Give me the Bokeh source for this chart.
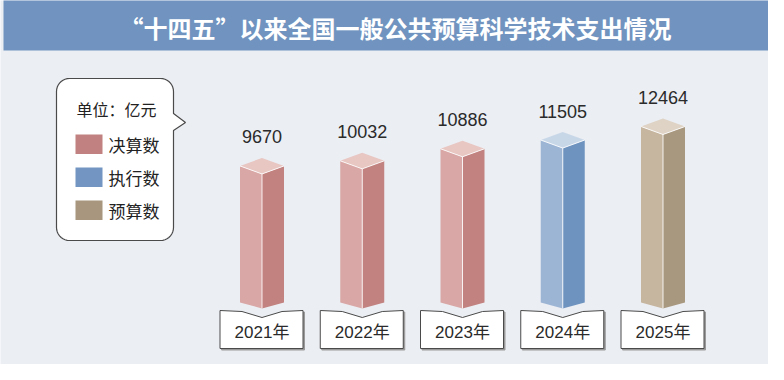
import numpy as np
from bokeh.plotting import figure
from bokeh.models import Range1d
from bokeh.core.properties import value
from bokeh.embed import file_html
from bokeh.resources import INLINE

# ---------------- data ----------------
years = ["2021年", "2022年", "2023年", "2024年", "2025年"]
values = [9670, 10032, 10886, 11505, 12464]
kinds = ["决算数", "决算数", "决算数", "执行数", "预算数"]
legend_items = ["决算数", "执行数", "预算数"]
title_text = "“十四五”以来全国一般公共预算科学技术支出情况"
unit_text = "单位：亿元"

# ---------------- styles ----------------
face_colors = {
    "决算数": ("#d9a7a5", "#c2827f", "#e8c6c2"),
    "执行数": ("#9db5d5", "#6f93bf", "#c8d7e8"),
    "预算数": ("#c6b59f", "#a99880", "#ded3c5"),
}
swatch_colors = {"决算数": "#c08180", "执行数": "#7296c1", "预算数": "#a8967f"}
CJK = "Noto Sans CJK SC"
NUMF = "'Liberation Sans', 'Noto Sans CJK SC'"

W, H, OFF = 768, 364, 0
X0, DX = 261.5, 100.25        # first category centre (px), category spacing
BASE, K = 302, 0.01412        # baseline y (px), px per value unit

p = figure(width=W, height=H, output_backend="svg", toolbar_location=None,
           x_range=Range1d((OFF - X0) / DX, (OFF + W - X0) / DX),
           y_range=Range1d(-(OFF + H - BASE) / K, (BASE - OFF) / K),
           min_border=0)
p.axis.visible = False
p.grid.visible = False
p.outline_line_color = None
p.background_fill_color = "#ebeef3"
p.border_fill_color = "#ebeef3"


def X(px):
    return (px - X0) / DX


def Y(py):
    return (BASE - py) / K


# ---------------- title bar ----------------
p.quad(left=X(3), right=X(800), top=Y(-20), bottom=Y(50),
       fill_color="#7094bf", line_color=None)
p.text(x=[X(395)], y=[Y(27)], text=[title_text], text_color="white",
       text_font=value(CJK), text_font_style="bold", text_font_size="24px",
       text_align="center", text_baseline="middle")

# ---------------- 3D bars ----------------
hw = 22 / DX
d = 8 / K
b = 6 / K
lx, ly, rx, ry, tx, ty, lc, rc, tc = [], [], [], [], [], [], [], [], []
for i, (v, k) in enumerate(zip(values, kinds)):
    lx.append([i - hw, i - hw, i, i])
    ly.append([0, v, v - d, -b])
    rx.append([i, i, i + hw, i + hw])
    ry.append([-b, v - d, v, 0])
    tx.append([i - hw, i, i + hw, i])
    ty.append([v, v + d, v, v - d])
    c = face_colors[k]
    lc.append(c[0]); rc.append(c[1]); tc.append(c[2])

p.patches(lx, ly, fill_color=lc, line_color=None)
p.patches(rx, ry, fill_color=rc, line_color=None)
p.patches(tx, ty, fill_color=tc, line_color=None)
for i, v in enumerate(values):
    p.line([i, i], [v - d, -b], line_color="white", line_width=1, line_alpha=0.85)
    p.line([i - hw, i, i + hw], [v, v - d, v], line_color="white", line_width=1, line_alpha=0.85)

# value labels
p.text(x=list(range(len(values))), y=[v + 29 / K for v in values],
       text=[str(v) for v in values], text_color="#2a2a2a",
       text_font=value(NUMF), text_font_size="18px",
       text_align="center", text_baseline="middle")

# ---------------- year boxes ----------------
bx, by, sx, sy = [], [], [], []
for i in range(len(years)):
    offs = [(-42, 310), (-20, 311), (0, 317), (20, 311), (41, 310), (41, 348), (-42, 348)]
    bx.append([i + o[0] / DX for o in offs])
    by.append([Y(o[1]) for o in offs])
    sx.append([i + (o[0] + 1.5) / DX for o in offs])
    sy.append([Y(o[1] + 1.5) for o in offs])
p.patches(sx, sy, fill_color="#9a9a9a", line_color="#9a9a9a", line_width=1)
p.patches(bx, by, fill_color="white", line_color="#4a4a4a", line_width=1)
p.text(x=list(range(len(years))), y=[Y(332)] * len(years), text=years,
       text_color="#2a2a2a", text_font=value(NUMF), text_font_size="17px",
       text_align="center", text_baseline="middle")

# ---------------- legend bubble ----------------
x0, y0, x1, y1, r = 56, 78, 173, 240, 13
pts = []
def arc(cx, cy, a0, a1):
    for t in np.linspace(np.radians(a0), np.radians(a1), 10):
        pts.append((cx + r * np.cos(t), cy + r * np.sin(t)))
arc(x1 - r, y0 + r, -90, 0)
pts += [(x1, 113), (185, 122), (x1, 130)]
arc(x1 - r, y1 - r, 0, 90)
arc(x0 + r, y1 - r, 90, 180)
arc(x0 + r, y0 + r, 180, 270)
p.patch([X(a) for a, _ in pts], [Y(c) for _, c in pts],
        fill_color="white", line_color="#4a4a4a", line_width=1.2)
p.text(x=[X(116)], y=[Y(108)], text=[unit_text], text_color="#222222",
       text_font=value(CJK), text_font_size="16px",
       text_align="center", text_baseline="middle")
sw_top = [134, 167, 200]
p.quad(left=[X(75)] * 3, right=[X(102)] * 3,
       top=[Y(t) for t in sw_top], bottom=[Y(t + 19.5) for t in sw_top],
       fill_color=[swatch_colors[k] for k in legend_items], line_color=None)
p.text(x=[X(108)] * 3, y=[Y(t + 10) for t in sw_top], text=legend_items,
       text_color="#222222", text_font=value(CJK), text_font_size="17px",
       text_align="left", text_baseline="middle")

open("out.html", "w").write(file_html(p, INLINE))
